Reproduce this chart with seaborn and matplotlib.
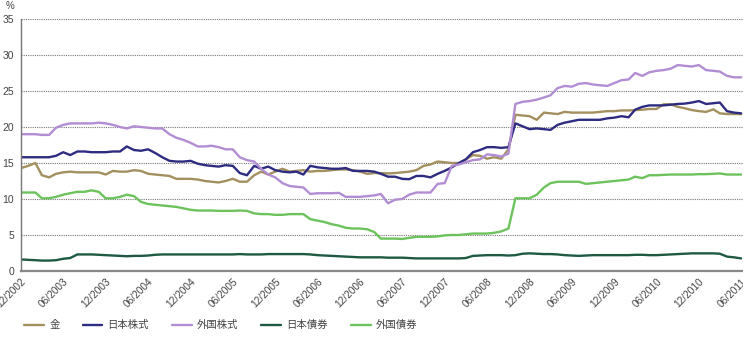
import pandas as pd
import numpy as np
import matplotlib
matplotlib.use('Agg')
import matplotlib.pyplot as plt
import matplotlib.dates as mdates
import seaborn as sns

# monthly values, 12/2002 - 06/2011 (%)
months = pd.date_range('2002-12-01', periods=103, freq='MS')

gold = [14.3, 14.6, 15.0, 13.3, 13.0, 13.5, 13.7, 13.8, 13.7, 13.7,
        13.7, 13.7, 13.4, 13.9, 13.8, 13.8, 14.0, 13.9, 13.5, 13.4,
        13.3, 13.2, 12.8, 12.8, 12.8, 12.7, 12.5, 12.4, 12.3, 12.5,
        12.8, 12.4, 12.4, 13.3, 13.8, 13.4, 13.8, 14.2, 13.8, 13.9,
        14.0, 13.8, 13.9, 13.9, 14.0, 14.1, 14.1, 14.0, 13.8, 13.5,
        13.6, 13.6, 13.55, 13.6, 13.7, 13.8, 14.0, 14.6, 14.8, 15.2,
        15.1, 15.0, 15.0, 15.5, 16.1, 16.0, 15.6, 15.8, 15.6, 16.9,
        21.7, 21.6, 21.5, 21.0, 22.0, 21.9, 21.8, 22.1, 22.0, 22.0,
        22.0, 22.0, 22.1, 22.2, 22.2, 22.3, 22.3, 22.35, 22.4, 22.5,
        22.5, 23.15, 23.15, 22.8, 22.6, 22.35, 22.2, 22.1, 22.45, 21.9,
        21.8, 21.8, 21.8]

jp_equity = [15.8, 15.8, 15.8, 15.8, 15.8, 16.0, 16.5, 16.1, 16.6, 16.6,
             16.5, 16.5, 16.5, 16.6, 16.6, 17.3, 16.8, 16.7, 16.9, 16.4,
             15.8, 15.3, 15.2, 15.2, 15.3, 14.9, 14.7, 14.6, 14.5, 14.7,
             14.6, 13.6, 13.3, 14.6, 14.2, 14.5, 14.0, 13.8, 13.7, 13.8,
             13.4, 14.6, 14.4, 14.3, 14.2, 14.2, 14.3, 13.9, 13.9, 13.9,
             13.8, 13.5, 13.1, 13.1, 12.8, 12.75, 13.2, 13.2, 13.0, 13.5,
             13.9, 14.4, 15.0, 15.5, 16.5, 16.8, 17.2, 17.2, 17.1, 17.2,
             20.5, 20.1, 19.7, 19.8, 19.7, 19.6, 20.3, 20.6, 20.8, 21.0,
             21.0, 21.0, 21.0, 21.2, 21.3, 21.5, 21.35, 22.4, 22.8, 23.0,
             23.0, 23.0, 23.1, 23.2, 23.25, 23.4, 23.6, 23.2, 23.3, 23.4,
             22.2, 22.0, 21.9]

fx_equity = [19.0, 19.0, 19.0, 18.9, 18.9, 19.9, 20.3, 20.5, 20.5, 20.5,
             20.5, 20.6, 20.5, 20.3, 20.0, 19.8, 20.1, 20.0, 19.9, 19.8,
             19.8, 19.0, 18.5, 18.2, 17.8, 17.3, 17.3, 17.4, 17.2, 16.9,
             16.9, 15.8, 15.4, 15.2, 14.2, 13.4, 13.0, 12.2, 11.8, 11.7,
             11.6, 10.7, 10.8, 10.8, 10.8, 10.85, 10.3, 10.3, 10.3, 10.4,
             10.5, 10.7, 9.4, 9.9, 10.0, 10.6, 10.9, 10.9, 10.9, 12.1,
             12.2, 14.6, 14.8, 15.1, 15.4, 15.5, 16.2, 16.1, 15.9, 16.3,
             23.2, 23.5, 23.6, 23.8, 24.1, 24.4, 25.4, 25.7, 25.6, 26.0,
             26.1, 25.9, 25.8, 25.7, 26.1, 26.5, 26.6, 27.5, 27.1, 27.6,
             27.8, 27.9, 28.1, 28.6, 28.5, 28.4, 28.6, 27.9, 27.8, 27.7,
             27.1, 26.9, 26.9]

jp_bond = [1.6, 1.55, 1.5, 1.45, 1.45, 1.5, 1.7, 1.8, 2.3, 2.3,
           2.3, 2.25, 2.2, 2.15, 2.1, 2.05, 2.1, 2.1, 2.15, 2.25,
           2.3, 2.3, 2.3, 2.3, 2.3, 2.3, 2.3, 2.3, 2.3, 2.3,
           2.3, 2.35, 2.3, 2.3, 2.3, 2.35, 2.35, 2.35, 2.35, 2.35,
           2.35, 2.3, 2.2, 2.15, 2.1, 2.05, 2.0, 1.95, 1.9, 1.9,
           1.9, 1.9, 1.85, 1.85, 1.85, 1.8, 1.75, 1.75, 1.75, 1.75,
           1.75, 1.75, 1.75, 1.8, 2.1, 2.15, 2.2, 2.2, 2.2, 2.15,
           2.2, 2.4, 2.45, 2.4, 2.35, 2.35, 2.3, 2.2, 2.15, 2.1,
           2.15, 2.2, 2.2, 2.2, 2.2, 2.2, 2.2, 2.25, 2.25, 2.2,
           2.2, 2.25, 2.3, 2.35, 2.4, 2.45, 2.45, 2.45, 2.45, 2.4,
           2.0, 1.9, 1.75]

fx_bond = [10.9, 10.9, 10.9, 10.1, 10.1, 10.3, 10.6, 10.8, 11.0, 11.0,
           11.2, 11.0, 10.1, 10.1, 10.3, 10.6, 10.4, 9.6, 9.3, 9.2,
           9.1, 9.0, 8.9, 8.7, 8.5, 8.4, 8.4, 8.4, 8.35, 8.35,
           8.35, 8.4, 8.35, 8.0, 7.9, 7.9, 7.8, 7.8, 7.9, 7.9,
           7.9, 7.2, 7.0, 6.8, 6.5, 6.3, 6.0, 5.9, 5.9, 5.8,
           5.4, 4.5, 4.5, 4.5, 4.45, 4.6, 4.75, 4.75, 4.75, 4.8,
           4.95, 5.0, 5.0, 5.1, 5.2, 5.2, 5.2, 5.3, 5.5, 5.9,
           10.1, 10.1, 10.1, 10.6, 11.6, 12.2, 12.4, 12.4, 12.4, 12.4,
           12.1, 12.2, 12.3, 12.4, 12.5, 12.6, 12.7, 13.1, 12.9, 13.3,
           13.3, 13.35, 13.4, 13.4, 13.4, 13.4, 13.45, 13.45, 13.5, 13.55,
           13.4, 13.4, 13.4]

series_names = ['金', '日本株式', '外国株式', '日本債券', '外国債券']
colors = ['#A48F5E', '#2E2C80', '#B28DD3', '#1E5A42', '#6CC35C']

df = pd.DataFrame({'月': months, '金': gold, '日本株式': jp_equity,
                   '外国株式': fx_equity, '日本債券': jp_bond, '外国債券': fx_bond})
long_df = df.melt(id_vars='月', var_name='資産', value_name='値')

sns.set_style('white')
plt.rcParams['font.family'] = ['Liberation Sans', 'Noto Sans CJK JP']

fig, ax = plt.subplots(figsize=(7.43, 3.43), dpi=100)
fig.subplots_adjust(left=21/743, right=1.0, top=1 - 19/343, bottom=1 - 271/343)

sns.lineplot(data=long_df, x='月', y='値', hue='資産', hue_order=series_names,
             palette=dict(zip(series_names, colors)), linewidth=1.7, ax=ax, legend=False)

ax.set_ylim(0, 35)
ax.set_yticks(range(0, 36, 5))
ax.yaxis.grid(True, linestyle=(0, (1, 1)), color='#777777', linewidth=0.8)
ax.xaxis.grid(False)
ax.set_xlim(pd.Timestamp('2002-12-01'), pd.Timestamp('2011-06-09'))
ticks = pd.date_range('2002-12-01', '2011-06-01', freq='6MS')
ax.set_xticks(ticks)
ax.set_xticklabels([t.strftime('%m/%Y') for t in ticks], rotation=45, ha='right',
                   va='top', rotation_mode='anchor', fontsize=7.3, color='#444444')
ax.tick_params(axis='x', direction='in', length=4, color='#777777', pad=4)
ax.tick_params(axis='y', length=0, labelsize=7.5, labelcolor='#444444', pad=5)
ax.set_xlabel('')
ax.set_ylabel('')

for s in ['top', 'right']:
    ax.spines[s].set_visible(False)
ax.spines['left'].set_color('#777777')
ax.spines['left'].set_linewidth(1.0)
ax.spines['bottom'].set_color('#888888')
ax.spines['bottom'].set_linewidth(1.6)
ax.set_axisbelow(True)

fig.text(0.007, 0.998, '%', ha='left', va='top', fontsize=7, color='#444444')

handles = [plt.Line2D([], [], color=c, linewidth=1.7) for c in colors]
fig.legend(handles, series_names, loc='center left', bbox_to_anchor=(0.02, 0.052),
           ncol=5, frameon=False, fontsize=7.5, handlelength=1.9, handletextpad=0.5,
           columnspacing=2.2, labelcolor='#444444')

fig.savefig('out.png', dpi=100)
